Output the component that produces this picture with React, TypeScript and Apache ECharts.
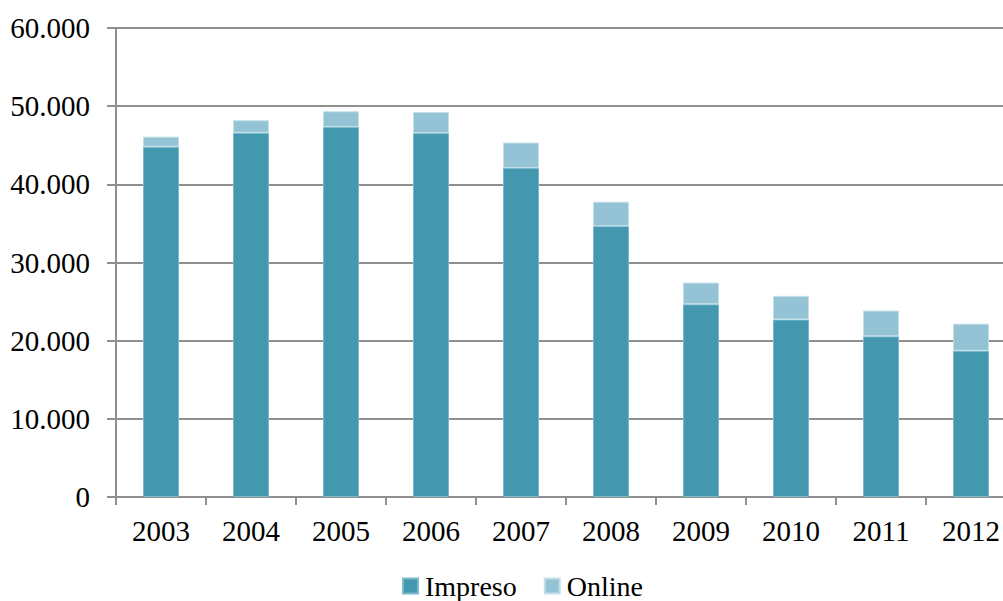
import React, { useEffect, useRef } from "react";
import * as echarts from "echarts";

// Circulation per year, split into print and online editions
const years = ["2003", "2004", "2005", "2006", "2007", "2008", "2009", "2010", "2011", "2012"];
const impreso = [44800, 46600, 47350, 46550, 42100, 34650, 24650, 22700, 20550, 18700];
const online = [1300, 1600, 2000, 2700, 3250, 3130, 2780, 3030, 3300, 3480];

const FONT = "Liberation Serif";
const GRID_GRAY = "#8f8f8f";

const formatThousands = (v: number) =>
  v === 0 ? "0" : String(v).replace(/\B(?=(\d{3})+(?!\d))/g, ".");

export default function App() {
  const ref = useRef<HTMLDivElement>(null);

  useEffect(() => {
    if (!ref.current) return;
    const chart = echarts.init(ref.current, undefined, { renderer: "svg" });
    chart.setOption({
      animation: false,
      backgroundColor: "#ffffff",
      textStyle: { fontFamily: FONT, color: "#000", fontSize: 28 },
      grid: { left: 116, right: 4, top: 28, bottom: 104 },
      legend: {
        left: 397,
        top: 567,
        itemWidth: 15,
        itemHeight: 15,
        itemGap: 27,
        icon: "rect",
        textStyle: { fontFamily: FONT, fontSize: 28, color: "#000", padding: [0, 0, 0, 2] },
        data: ["Impreso", "Online"],
      },
      xAxis: {
        type: "category",
        data: years,
        boundaryGap: true,
        axisLine: { show: true, lineStyle: { color: GRID_GRAY, width: 2 } },
        axisTick: { show: true, length: 8, alignWithLabel: false, lineStyle: { color: GRID_GRAY, width: 2 } },
        axisLabel: { fontFamily: FONT, fontSize: 29, color: "#000", margin: 19 },
      },
      yAxis: {
        type: "value",
        min: 0,
        max: 60000,
        interval: 10000,
        axisLine: { show: true, lineStyle: { color: GRID_GRAY, width: 2 } },
        axisTick: { show: true, length: 9, lineStyle: { color: GRID_GRAY, width: 2 } },
        splitLine: { show: true, lineStyle: { color: GRID_GRAY, width: 2 } },
        axisLabel: {
          fontFamily: FONT,
          fontSize: 29,
          color: "#000",
          margin: 26,
          formatter: formatThousands,
        },
      },
      series: [
        {
          name: "Impreso",
          type: "bar",
          stack: "total",
          barWidth: 36,
          data: impreso,
          itemStyle: { color: "#4398b0", borderColor: "#7bb9cb", borderWidth: 1 },
        },
        {
          name: "Online",
          type: "bar",
          stack: "total",
          barWidth: 36,
          data: online,
          itemStyle: { color: "#93c3d4", borderColor: "#c4dfe8", borderWidth: 1 },
        },
      ],
    });
    return () => chart.dispose();
  }, []);

  return (
    <div
      style={{
        position: "fixed",
        left: 0,
        top: 0,
        width: 1003,
        height: 601,
        overflow: "hidden",
        background: "#fff",
      }}
    >
      <div ref={ref} style={{ width: 1020, height: 601 }} />
    </div>
  );
}
